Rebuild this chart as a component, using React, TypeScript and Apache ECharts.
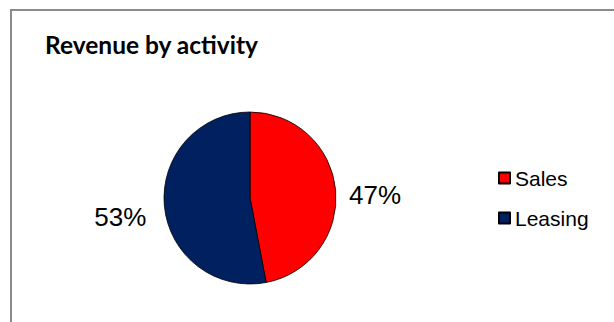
import React, { useEffect, useRef } from "react";
import * as echarts from "echarts";

const categories = ["Sales", "Leasing"];
const values = [47, 53];
const colors = ["#FF0000", "#002060"];
const titleText = "Revenue by activity";

export default function App() {
  const ref = useRef<HTMLDivElement>(null);
  useEffect(() => {
    if (!ref.current) return;
    const chart = echarts.init(ref.current, null, { renderer: "svg" });
    const labelShift = [
      { dx: -6.5, dy: 6 },
      { dx: 2, dy: 10 },
    ];
    chart.setOption({
      animation: false,
      backgroundColor: "#ffffff",
      title: {
        text: titleText,
        left: 45,
        top: 32,
        padding: 0,
        textStyle: {
          fontFamily: "Lato",
          fontWeight: "bold",
          fontSize: 24.5,
          color: "#000000",
        },
      },
      legend: {
        orient: "vertical",
        left: 498,
        top: 167,
        padding: 0,
        icon: "rect",
        itemWidth: 11,
        itemHeight: 11,
        itemGap: 18,
        data: categories,
        textStyle: {
          fontFamily: "Liberation Sans, Arial",
          fontSize: 21,
          lineHeight: 22,
          color: "#000000",
        },
      },
      graphic: [
        {
          type: "rect",
          shape: { x: 11, y: 10, width: 700, height: 400 },
          style: { fill: "none", stroke: "#8a8a8a", lineWidth: 2 },
          silent: true,
        },
      ],
      series: [
        {
          type: "pie",
          center: [250, 198],
          radius: 86,
          startAngle: 90,
          clockwise: true,
          avoidLabelOverlap: false,
          percentPrecision: 0,
          itemStyle: { borderColor: "#000000", borderWidth: 0.8 },
          emphasis: { disabled: true },
          label: {
            show: true,
            position: "outside",
            formatter: "{d}%",
            fontFamily: "Liberation Sans, Arial",
            fontSize: 26,
            color: "#000000",
          },
          labelLine: { show: false, length: 5, length2: 10 },
          labelLayout: (params: any) => labelShift[params.dataIndex] || {},
          data: categories.map((name, i) => ({
            name,
            value: values[i],
            itemStyle: { color: colors[i] },
          })),
        },
      ],
    });
    return () => chart.dispose();
  }, []);
  return (
    <div
      ref={ref}
      style={{ position: "fixed", left: 0, top: 0, width: 614, height: 322 }}
    />
  );
}
